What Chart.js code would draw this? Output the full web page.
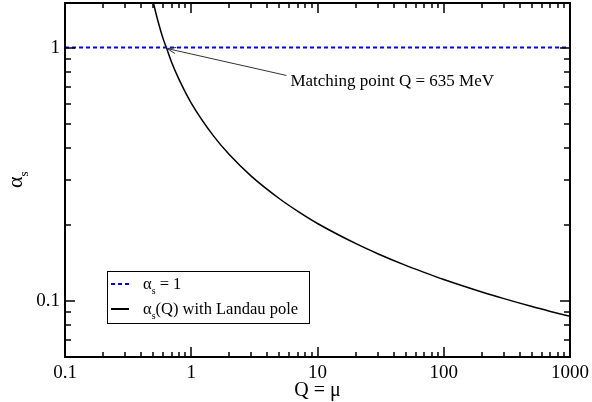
<!DOCTYPE html>
<html>
<head>
<meta charset="utf-8">
<script src="https://cdn.jsdelivr.net/npm/chart.js@4.4.0/dist/chart.umd.min.js"></script>
<style>
  html, body { margin: 0; padding: 0; background: #fff; }
  #wrap { width: 592px; height: 402px; }
</style>
</head>
<body>
<div id="wrap"><canvas id="chart"></canvas></div>
<script>
// running coupling (Q in GeV)
const qValues = [0.49, 0.55, 0.6, 0.635, 0.7, 0.8, 1, 1.5, 2, 3, 5, 7, 10, 20, 30, 50, 70, 100, 200, 300, 500, 700, 1000];
const alphaValues = [1.57, 1.25, 1.08, 1.0, 0.873, 0.749, 0.604, 0.448, 0.378, 0.31, 0.253, 0.2255, 0.202, 0.1685, 0.1535, 0.138, 0.1295, 0.1214, 0.1084, 0.102, 0.0949, 0.0908, 0.0868];

// alpha_s = 1 reference line
const flatQ = [0.1, 1000];
const flatAlpha = [1, 1];

const matchingQ = 0.635;
const matchingAlpha = 1;
const matchingLabel = "Matching point Q = 635 MeV";

const xMajorTicks = [0.1, 1, 10, 100, 1000];
const xMinorTicks = [0.2, 0.3, 0.4, 0.5, 0.6, 0.7, 0.8, 0.9, 2, 3, 4, 5, 6, 7, 8, 9,
  20, 30, 40, 50, 60, 70, 80, 90, 200, 300, 400, 500, 600, 700, 800, 900];
const yMajorTicks = [0.1, 1];
const yMinorTicks = [0.06, 0.07, 0.08, 0.09, 0.2, 0.3, 0.4, 0.5, 0.6, 0.7, 0.8, 0.9];

const SERIF = '"Liberation Serif", "DejaVu Serif", serif';

function toPoints(xs, ys) {
  return xs.map((x, i) => ({ x, y: ys[i] }));
}

// draws alpha with a subscript s, then the rest of the text
function drawAlphaS(ctx, x, y, size, rest) {
  ctx.font = size + "px " + SERIF;
  ctx.textBaseline = "alphabetic";
  ctx.textAlign = "left";
  ctx.fillText("\u03b1", x, y);
  let cx = x + ctx.measureText("\u03b1").width;
  const sub = Math.round(size * 0.6);
  ctx.font = sub + "px " + SERIF;
  ctx.fillText("s", cx, y + size * 0.28);
  cx += ctx.measureText("s").width;
  if (rest) {
    ctx.font = size + "px " + SERIF;
    ctx.fillText(rest, cx, y);
  }
}

const decor = {
  id: "decor",
  afterDatasetsDraw(chart) {
    const { ctx, chartArea: ca, scales } = chart;
    const xs = scales.x, ys = scales.y;
    ctx.save();

    // tick marks on all four sides, pointing inward
    ctx.strokeStyle = "#000";
    ctx.lineWidth = 1.5;
    const xTick = (v, len) => {
      const px = Math.round(xs.getPixelForValue(v));
      ctx.beginPath();
      ctx.moveTo(px, ca.bottom); ctx.lineTo(px, ca.bottom - len);
      ctx.moveTo(px, ca.top); ctx.lineTo(px, ca.top + len);
      ctx.stroke();
    };
    const yTick = (v, len) => {
      const py = Math.round(ys.getPixelForValue(v));
      ctx.beginPath();
      ctx.moveTo(ca.left, py); ctx.lineTo(ca.left + len, py);
      ctx.moveTo(ca.right, py); ctx.lineTo(ca.right - len, py);
      ctx.stroke();
    };
    xMajorTicks.forEach(v => xTick(v, 10));
    xMinorTicks.forEach(v => xTick(v, 5));
    yMajorTicks.forEach(v => yTick(v, 10));
    yMinorTicks.forEach(v => yTick(v, 6));

    // frame
    ctx.lineWidth = 2;
    ctx.strokeRect(ca.left, ca.top, ca.right - ca.left, ca.bottom - ca.top);

    // annotation arrow
    const tipX = xs.getPixelForValue(matchingQ);
    const tipY = ys.getPixelForValue(matchingAlpha);
    const textX = xs.getPixelForValue(6.1);
    const textY = ys.getPixelForValue(0.735);
    const tailX = textX - 4, tailY = textY - 6;
    ctx.strokeStyle = "#333";
    ctx.lineWidth = 1;
    ctx.beginPath();
    ctx.moveTo(tailX, tailY);
    ctx.lineTo(tipX + 1, tipY + 1);
    ctx.stroke();
    const ang = Math.atan2(tipY - tailY, tipX - tailX);
    ctx.beginPath();
    ctx.moveTo(tipX + 1 - 9 * Math.cos(ang - 0.35), tipY + 1 - 9 * Math.sin(ang - 0.35));
    ctx.lineTo(tipX + 1, tipY + 1);
    ctx.lineTo(tipX + 1 - 9 * Math.cos(ang + 0.35), tipY + 1 - 9 * Math.sin(ang + 0.35));
    ctx.stroke();
    ctx.fillStyle = "#000";
    ctx.font = "17px " + SERIF;
    ctx.textAlign = "left";
    ctx.textBaseline = "middle";
    ctx.fillText(matchingLabel, textX, textY);

    // legend box
    const lx = ca.left + 42, ly = ca.top + 268;
    ctx.fillStyle = "#fff";
    ctx.fillRect(lx, ly, 202, 52);
    ctx.strokeStyle = "#000";
    ctx.lineWidth = 1;
    ctx.strokeRect(lx + 0.5, ly + 0.5, 202, 52);
    ctx.lineWidth = 2;
    ctx.strokeStyle = "#0000ff";
    ctx.setLineDash([4, 3]);
    ctx.beginPath();
    ctx.moveTo(lx + 4, ly + 13); ctx.lineTo(lx + 22, ly + 13);
    ctx.stroke();
    ctx.setLineDash([]);
    ctx.strokeStyle = "#000";
    ctx.beginPath();
    ctx.moveTo(lx + 4, ly + 38); ctx.lineTo(lx + 22, ly + 38);
    ctx.stroke();
    ctx.fillStyle = "#000";
    drawAlphaS(ctx, lx + 36, ly + 18, 16.5, " = 1");
    drawAlphaS(ctx, lx + 36, ly + 43, 16.5, "(Q) with Landau pole");

    // axis titles
    ctx.font = "20px " + SERIF;
    ctx.textAlign = "center";
    ctx.textBaseline = "middle";
    ctx.fillText("Q = \u03bc", (ca.left + ca.right) / 2, 391);
    ctx.save();
    ctx.translate(22, (ca.top + ca.bottom) / 2 + 1);
    ctx.rotate(-Math.PI / 2);
    drawAlphaS(ctx, -7, 0, 22, "");
    ctx.restore();

    ctx.restore();
  }
};

new Chart(document.getElementById("chart"), {
  type: "line",
  data: {
    datasets: [
      {
        label: "alpha_s = 1",
        data: toPoints(flatQ, flatAlpha),
        borderColor: "#0000ff",
        borderWidth: 2,
        borderDash: [4, 3],
        pointRadius: 0,
        fill: false,
      },
      {
        label: "alpha_s(Q) with Landau pole",
        data: toPoints(qValues, alphaValues),
        borderColor: "#000",
        borderWidth: 1.5,
        pointRadius: 0,
        tension: 0.4,
        cubicInterpolationMode: "monotone",
        fill: false,
      },
    ],
  },
  options: {
    responsive: true,
    maintainAspectRatio: false,
    animation: false,
    layout: { padding: { top: 3, right: 22, left: 0, bottom: 0 } },
    plugins: { legend: { display: false }, tooltip: { enabled: false } },
    scales: {
      x: {
        type: "logarithmic",
        min: 0.1,
        max: 1000,
        grid: { display: false, drawTicks: false },
        border: { display: false },
        afterBuildTicks: (s) => { s.ticks = xMajorTicks.map(v => ({ value: v })); },
        afterFit: (s) => { s.height = 45; s.paddingLeft = 0; s.paddingRight = 0; },
        ticks: {
          autoSkip: false,
          maxRotation: 0,
          padding: 5,
          color: "#000",
          font: { family: SERIF, size: 19 },
          callback: (v) => String(v),
        },
      },
      y: {
        type: "logarithmic",
        min: 0.06,
        max: 1.5,
        grid: { display: false, drawTicks: false },
        border: { display: false },
        afterBuildTicks: (s) => { s.ticks = yMajorTicks.map(v => ({ value: v })); },
        afterFit: (s) => { s.width = 65; s.paddingTop = 0; s.paddingBottom = 0; },
        ticks: {
          autoSkip: false,
          padding: 5,
          color: "#000",
          font: { family: SERIF, size: 19 },
          callback: (v) => String(v),
        },
      },
    },
  },
  plugins: [decor],
});
</script>
</body>
</html>
